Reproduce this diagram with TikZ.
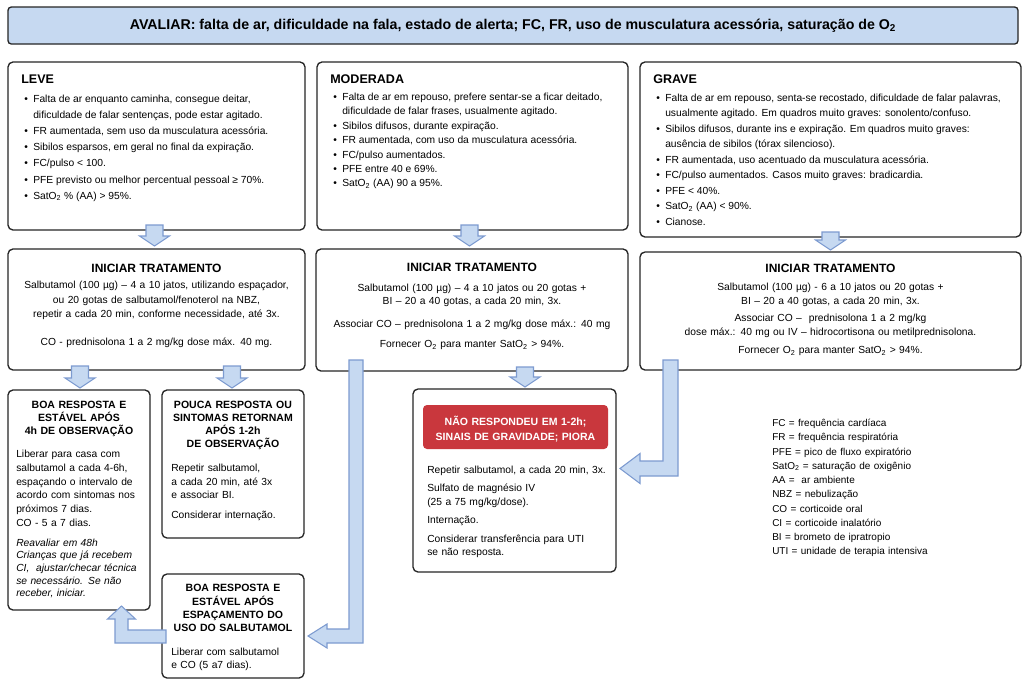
\documentclass[tikz,border=0pt]{standalone}
\usepackage{fontspec}
\setmainfont{Liberation Sans}
\usetikzlibrary{calc}
\definecolor{lb}{RGB}{198,217,241}
\definecolor{lbd}{RGB}{125,155,208}
\definecolor{rd}{RGB}{201,55,61}
\newcommand\fsz[2]{\fontsize{#1}{#2}\selectfont}
\newcommand\two{\textsubscript{2}}
\newcommand\mkbox[6][]{\node[box,#1, anchor=north west, minimum width={(#5-#3)*0.75pt}, minimum height={(#6-#4)*0.75pt}] (#2) at (#3,#4) {};}
\newcommand\blist[2]{{\fsz{7.7pt}{#1}\setlength\tabcolsep{0pt}\begin{tabular}[t]{@{}p{6.75pt}@{}l@{}}#2\end{tabular}}}
\newcommand\dar[2]{\path[blk] ($(#1)+(-8.5,0)$) -- ($(#1)+(8.5,0)$) -- ($(#2)+(8.5,-10)$) -- ($(#2)+(15,-10)$) -- (#2) -- ($(#2)+(-15,-10)$) -- ($(#2)+(-8.5,-10)$) -- cycle;}
\newcommand\elbowdl[5]{\path[blk] ($(#1)+(-#3,0)$) -- ($(#1)+(#3,0)$) -- ($(#1 |- #2)+(#3,#3)$) -- ($(#2)+(#5,#3)$) -- ($(#2)+(#5,#4)$) -- (#2) -- ($(#2)+(#5,-#4)$) -- ($(#2)+(#5,-#3)$) -- ($(#1 |- #2)+(-#3,-#3)$) -- cycle;}
\newcommand\elbowlu[5]{\path[blk] ($(#1)+(0,-#3)$) -- ($(#2 |- #1)+(#3,-#3)$) -- ($(#2)+(#3,#5)$) -- ($(#2)+(#4,#5)$) -- (#2) -- ($(#2)+(-#4,#5)$) -- ($(#2)+(-#3,#5)$) -- ($(#2 |- #1)+(-#3,#3)$) -- ($(#1)+(0,#3)$) -- cycle;}
\begin{document}
\begin{tikzpicture}[x=0.75pt,y=-0.75pt,
  box/.style={draw=black!85, line width=1pt, rounded corners=3.75pt, fill=white, inner sep=0pt, outer sep=0pt},
  blk/.style={draw=lbd, fill=lb, line width=0.8pt, line join=miter},
  tx/.style={inner sep=0pt, font=\fsz{7.7pt}{10.3pt}},
  ttl/.style={inner sep=0pt, font=\bfseries\fsz{9.4pt}{11pt}},
  btl/.style={inner sep=0pt, font=\bfseries\fsz{7.9pt}{9.6pt}, text width=104pt, align=center}]
\useasboundingbox (0,0) rectangle (1027,687);
\fill[white] (0,0) rectangle (1027,687);

% header
\node[draw=black!85, fill=lb, line width=1pt, rounded corners=2.5pt, anchor=north west,
  minimum width={1010*0.75pt}, minimum height={37*0.75pt}, inner sep=0pt, outer sep=0pt,
  font=\bfseries\fsz{10.65pt}{12pt}] (hdr) at (8,7)
  {AVALIAR: falta de ar, dificuldade na fala, estado de alerta; FC, FR, uso de musculatura acessória, saturação de O\two};

% boxes
\mkbox{leve}{8}{62}{305}{230}
\mkbox{mod}{317}{62}{628}{230}
\mkbox{grav}{640}{62}{1021}{237}
\mkbox{trl}{8}{249}{305}{370}
\mkbox{trm}{316}{249}{628}{371}
\mkbox{trr}{640}{252}{1021}{370}
\mkbox{boa1}{8}{390}{150}{610}
\mkbox{pouca}{162}{390}{304}{538}
\mkbox{boa2}{162}{574}{304}{678}
\mkbox{nao}{413}{389}{616}{572}
\node[fill=rd, rounded corners=3pt, anchor=north west, inner sep=0pt, outer sep=0pt,
  minimum width={185*0.75pt}, minimum height={44*0.75pt}] (red) at (423,405) {};

% LEVE
\node[ttl, anchor=base west] (levet) at (21,83.5) {LEVE};
\node[inner sep=0pt, anchor=base west] (level) at (24,102) {\blist{12.15pt}{%
 \textbullet & Falta de ar enquanto caminha, consegue deitar,\\
  & dificuldade de falar sentenças, pode estar agitado.\\
 \textbullet & FR aumentada, sem uso da musculatura acessória.\\
 \textbullet & Sibilos esparsos, em geral no final da expiração.\\
 \textbullet & FC/pulso < 100.\\
 \textbullet & PFE previsto ou melhor percentual pessoal ≥ 70\%.\\
 \textbullet & SatO\two\ \% (AA) > 95\%.}};

% MODERADA
\node[ttl, anchor=base west] (modt) at (330,83.5) {MODERADA};
\node[inner sep=0pt, anchor=base west] (model) at (333,100.5) {\blist{10.8pt}{%
 \textbullet & Falta de ar em repouso, prefere sentar-se a ficar deitado,\\
  & dificuldade de falar frases, usualmente agitado.\\
 \textbullet & Sibilos difusos, durante expiração.\\
 \textbullet & FR aumentada, com uso da musculatura acessória.\\
 \textbullet & FC/pulso aumentados.\\
 \textbullet & PFE entre 40 e 69\%.\\
 \textbullet & SatO\two\ (AA) 90 a 95\%.}};

% GRAVE
\node[ttl, anchor=base west] (gravt) at (653,83.5) {GRAVE};
\node[inner sep=0pt, anchor=base west] (gravl) at (656,101.5) {\blist{11.6pt}{%
 \textbullet & Falta de ar em repouso, senta-se recostado, dificuldade de falar palavras,\\
  & usualmente agitado. Em quadros muito graves: sonolento/confuso.\\
 \textbullet & Sibilos difusos, durante ins e expiração. Em quadros muito graves:\\
  & ausência de sibilos (tórax silencioso).\\
 \textbullet & FR aumentada, uso acentuado da musculatura acessória.\\
 \textbullet & FC/pulso aumentados. Casos muito graves: bradicardia.\\
 \textbullet & PFE < 40\%.\\
 \textbullet & SatO\two\ (AA) < 90\%.\\
 \textbullet & Cianose.}};

% treatments
\node[tx, font=\fsz{7.7pt}{10.9pt}, anchor=base, text width=215pt, align=center] (trlt) at (156.5,272.3)
 {{\bfseries\fsz{9pt}{10.9pt}INICIAR TRATAMENTO}\\[1.3pt]
  Salbutamol (100 µg) – 4 a 10 jatos, utilizando espaçador,\\
  ou 20 gotas de salbutamol/fenoterol na NBZ,\\
  repetir a cada 20 min, conforme necessidade, até 3x.\\[9.9pt]
  CO - prednisolona 1 a 2 mg/kg dose máx. 40 mg.};
\node[tx, font=\fsz{7.7pt}{10pt}, anchor=base, text width=225pt, align=center] (trmt) at (472,271)
 {{\bfseries\fsz{9pt}{10pt}INICIAR TRATAMENTO}\\[5pt]
  Salbutamol (100 µg) – 4 a 10 jatos ou 20 gotas +\\
  BI – 20 a 40 gotas, a cada 20 min, 3x.\\[7.5pt]
  Associar CO – prednisolona 1 a 2 mg/kg dose máx.: 40 mg\\[5pt]
  Fornecer O\two\ para manter SatO\two\ > 94\%.};
\node[tx, font=\fsz{7.7pt}{10.5pt}, anchor=base, text width=270pt, align=center] (trrt) at (830.5,272.3)
 {{\bfseries\fsz{9pt}{10.5pt}INICIAR TRATAMENTO}\\[3.5pt]
  Salbutamol (100 µg) - 6 a 10 jatos ou 20 gotas +\\
  BI – 20 a 40 gotas, a cada 20 min, 3x.\\[1.8pt]
  Associar CO – \ prednisolona 1 a 2 mg/kg\\
  dose máx.: 40 mg ou IV – hidrocortisona ou metilprednisolona.\\[3.3pt]
  Fornecer O\two\ para manter SatO\two\ > 94\%.};

% BOA 1
\node[btl, anchor=base] (boa1t) at (79,408.8) {BOA RESPOSTA E\\ESTÁVEL APÓS\\4h DE OBSERVAÇÃO};
\node[tx, anchor=base west, text width=102pt, align=left] (boa1b) at (16,457.6)
 {Liberar para casa com\\salbutamol a cada 4-6h,\\espaçando o intervalo de\\acordo com sintomas nos\\próximos 7 dias.\\CO - 5 a 7 dias.};
\node[tx, font=\itshape\fsz{7.7pt}{9.5pt}, anchor=base west, text width=102pt, align=left] (boa1i) at (16,546.2)
 {Reavaliar em 48h\\Crianças que já recebem\\CI, \ ajustar/checar técnica\\se necessário. Se não\\receber, iniciar.};

% POUCA
\node[btl, anchor=base] (poucat) at (233,408.8) {POUCA RESPOSTA OU\\SINTOMAS RETORNAM\\APÓS 1-2h\\DE OBSERVAÇÃO};
\node[tx, font=\fsz{7.7pt}{10.2pt}, anchor=base west, text width=102pt, align=left] (poucab) at (171,471.6)
 {Repetir salbutamol,\\a cada 20 min, até 3x\\e associar BI.\\[4.2pt]Considerar internação.};

% BOA 2
\node[btl, font=\bfseries\fsz{7.9pt}{10pt}, anchor=base] (boa2t) at (233,591.8) {BOA RESPOSTA E\\ESTÁVEL APÓS\\ESPAÇAMENTO DO\\USO DO SALBUTAMOL};
\node[tx, font=\fsz{7.7pt}{9.8pt}, anchor=base west, text width=102pt, align=left] (boa2b) at (171,655.6)
 {Liberar com salbutamol\\e CO (5 a7 dias).};

% NAO
\node[inner sep=0pt, font=\bfseries\fsz{7.9pt}{11.25pt}, text=white, text width=135pt, align=center, anchor=base] (redt) at (515.5,425.5)
 {NÃO RESPONDEU EM 1-2h;\\SINAIS DE GRAVIDADE; PIORA};
\node[tx, anchor=base west, text width=145pt, align=left] (naob) at (427,473.6)
 {Repetir salbutamol, a cada 20 min, 3x.\\[3.4pt]
  Sulfato de magnésio IV\\(25 a 75 mg/kg/dose).\\[3.4pt]
  Internação.\\[3.4pt]
  Considerar transferência para UTI\\se não resposta.};

% legend
\node[inner sep=0pt, font=\fsz{7.5pt}{10.7pt}, anchor=base west, text width=200pt, align=left] (leg) at (772,426.5)
 {FC = frequência cardíaca\\
  FR = frequência respiratória\\
  PFE = pico de fluxo expiratório\\
  SatO\two\ = saturação de oxigênio\\
  AA = \ ar ambiente\\
  NBZ = nebulização\\
  CO = corticoide oral\\
  CI = corticoide inalatório\\
  BI = brometo de ipratropio\\
  UTI = unidade de terapia intensiva};

% small block arrows
\coordinate (a1s) at ($(leve.south)+(-2,-5)$);
\coordinate (a1t) at ($(leve.south |- trl.north)+(-2,-3)$);
\dar{a1s}{a1t}
\coordinate (a2s) at ($(mod.south)+(-3,-5)$);
\coordinate (a2t) at ($(mod.south |- trm.north)+(-3,-3)$);
\dar{a2s}{a2t}
\coordinate (a3s) at ($(grav.south)+(0,-5)$);
\coordinate (a3t) at ($(grav.south |- trr.north)+(0,-2)$);
\dar{a3s}{a3t}
\coordinate (a4s) at ($(boa1.north |- trl.south)+(1,-4)$);
\coordinate (a4t) at ($(boa1.north)+(1,-2)$);
\dar{a4s}{a4t}
\coordinate (a5s) at ($(pouca.north |- trl.south)+(-1,-4)$);
\coordinate (a5t) at ($(pouca.north)+(-1,-2)$);
\dar{a5s}{a5t}
\coordinate (a6s) at ($(nao.north |- trm.south)+(10.5,-4)$);
\coordinate (a6t) at ($(nao.north)+(10.5,-2)$);
\dar{a6s}{a6t}

% elbow arrows
\coordinate (e1s) at ($(trm.south west)+(40,-11)$);
\coordinate (e1t) at ($(boa2.east)+(4,10)$);
\elbowdl{e1s}{e1t}{7}{12}{19}
\coordinate (e2s) at ($(trr.south west)+(30.5,-10)$);
\coordinate (e2t) at ($(nao.east)+(4,-12)$);
\elbowdl{e2s}{e2t}{7.5}{15}{20}
\coordinate (e3s) at ($(boa2.west)+(4,10.5)$);
\coordinate (e3t) at ($(boa1.south)+(42.5,-4)$);
\elbowlu{e3s}{e3t}{6.5}{14}{13}
\end{tikzpicture}
\end{document}
